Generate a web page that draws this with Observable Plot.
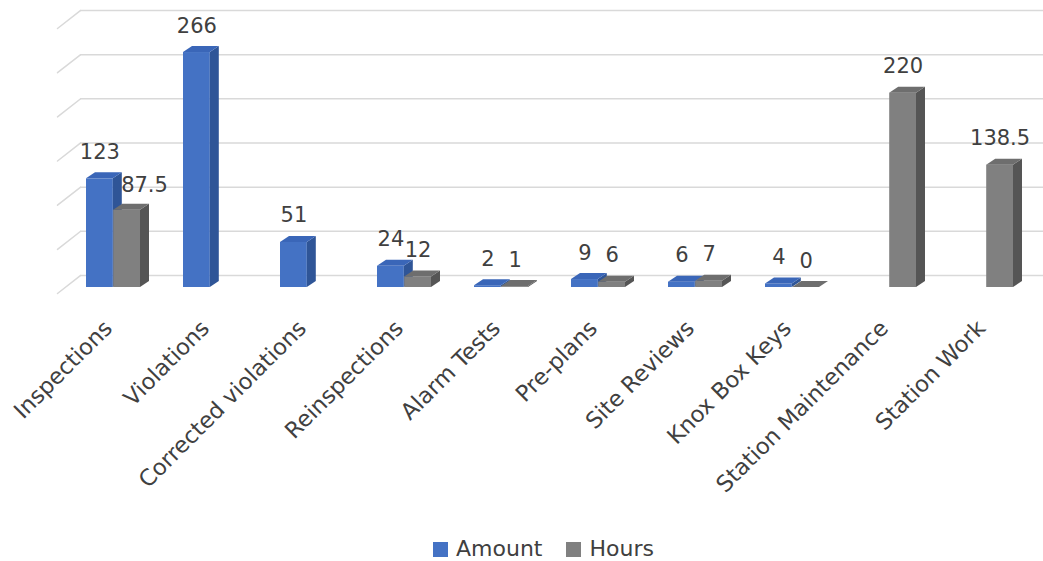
<!DOCTYPE html>
<html><head><meta charset="utf-8">
<script src="https://cdn.jsdelivr.net/npm/d3@7"></script>
<script src="https://cdn.jsdelivr.net/npm/@observablehq/plot@0.6"></script>
<style>
body{margin:0;background:#fff;font-family:"DejaVu Sans",sans-serif;}
#wrap{position:relative;width:1043px;height:561px;overflow:hidden;}
#legend{position:absolute;top:536px;left:433px;display:flex;align-items:center;font-size:22px;color:#404040;line-height:26px;}
#legend .item{display:flex;align-items:center;margin-right:24px;}
#legend .sw{width:15px;height:15px;display:inline-block;margin-right:8px;}
</style></head><body><div id="wrap"><div id="chart"></div><div id="legend"></div></div>
<script>
const categories = ["Inspections","Violations","Corrected violations","Reinspections","Alarm Tests","Pre-plans","Site Reviews","Knox Box Keys","Station Maintenance","Station Work"];
const amount = [123, 266, 51, 24, 2, 9, 6, 4, null, null];
const hours = [87.5, null, null, 12, 1, 6, 7, 0, 220, 138.5];
const series = ["Amount", "Hours"];
const colors = ["#4472C4", "#808080"];
const sideColors = ["#2F5597", "#555555"];
const topColors = ["#3A66B8", "#6E6E6E"];
const gridTicks = [0, 50, 100, 150, 200, 250, 300];

const amountRows = categories.map((c, i) => ({category: c, value: amount[i]})).filter(d => d.value != null);
const hoursRows = categories.map((c, i) => ({category: c, value: hours[i]})).filter(d => d.value != null);
const fmt = v => String(v);

const half = 27.2;
const font = "'DejaVu Sans', sans-serif";
const plot = Plot.plot({
  width: 1043, height: 530,
  marginLeft: 65, marginRight: 8, marginTop: 22, marginBottom: 243,
  style: {fontFamily: font, fontSize: "21px", color: "#404040", background: "white"},
  x: {domain: categories, paddingInner: 0.44, paddingOuter: 0.22, label: null, axis: null},
  y: {domain: [0, 300], axis: null},
  marks: [
    Plot.ruleY(gridTicks, {y: d => d, stroke: "#d9d9d9", strokeWidth: 1.5, dy: -12, insetLeft: 15, insetRight: -8}),
    Plot.vector(gridTicks, {y: d => d, frameAnchor: "left", dx: -8, dy: 6, length: 29, rotate: 52, anchor: "start", shape: "spike", r: 0, stroke: "#d9d9d9", strokeWidth: 1.5, fill: "none"}),
    Plot.barY(amountRows, {x: "category", y: "value", fill: colors[0], insetRight: half}),
    Plot.barY(hoursRows, {x: "category", y: "value", fill: colors[1], insetLeft: half}),
    Plot.text(amountRows, {x: "category", y: "value", text: d => fmt(d.value), dx: -13.6, dy: -20, lineAnchor: "bottom", fill: "#404040", fontSize: 21}),
    Plot.text(hoursRows.filter(d => d.category === "Inspections"), {x: "category", y: "value", text: d => fmt(d.value), dx: 31, dy: -18, lineAnchor: "bottom", fill: "#404040", fontSize: 21}),
    Plot.text(hoursRows.filter(d => d.category !== "Inspections"), {x: "category", y: "value", text: d => fmt(d.value), dx: 13.6, dy: -20, lineAnchor: "bottom", fill: "#404040", fontSize: 21}),
    Plot.axisX({tickRotate: -45, tickSize: 0, tickPadding: 37, dx: -5, fontSize: 22.5, fill: "#404040", label: null})
  ]
});
document.getElementById("chart").appendChild(plot);

// 3D depth faces derived from the rendered bars
const ddx = 9, ddy = 6;
d3.select(plot).selectAll('g[aria-label="bar"]').nodes().forEach((gNode, si) => {
  const g = d3.select(gNode);
  const rects = g.selectAll("rect").nodes();
  rects.forEach(rn => {
    const x = +rn.getAttribute("x"), y = +rn.getAttribute("y");
    const w = +rn.getAttribute("width"), h = +rn.getAttribute("height");
    g.append("polygon")
      .attr("points", [[x + w, y], [x + w + ddx, y - ddy], [x + w + ddx, y + h - ddy], [x + w, y + h]].map(p => p.join(",")).join(" "))
      .attr("fill", sideColors[si]);
    g.append("polygon")
      .attr("points", [[x, y], [x + ddx, y - ddy], [x + w + ddx, y - ddy], [x + w, y]].map(p => p.join(",")).join(" "))
      .attr("fill", topColors[si]);
  });
});

const legend = d3.select("#legend");
series.forEach((s, i) => {
  const it = legend.append("div").attr("class", "item");
  it.append("span").attr("class", "sw").style("background", colors[i]);
  it.append("span").text(s);
});
</script></body></html>
